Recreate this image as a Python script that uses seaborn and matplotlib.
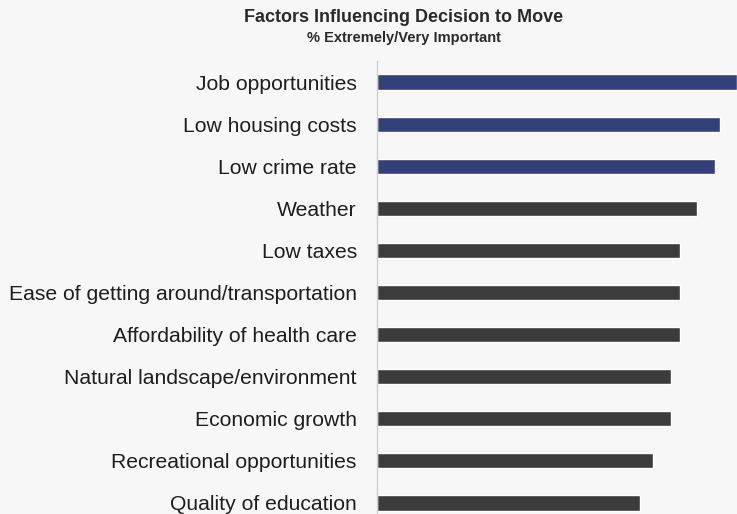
import matplotlib
matplotlib.use("Agg")
import matplotlib.pyplot as plt
import seaborn as sns
import pandas as pd

categories = [
    "Job opportunities",
    "Low housing costs",
    "Low crime rate",
    "Weather",
    "Low taxes",
    "Ease of getting around/transportation",
    "Affordability of health care",
    "Natural landscape/environment",
    "Economic growth",
    "Recreational opportunities",
    "Quality of education",
]
values = [42, 40, 39.4, 37.3, 35.3, 35.3, 35.3, 34.3, 34.3, 32.2, 30.7]
groups = ["top"] * 3 + ["other"] * 8

sns.set_theme(style="white")
plt.rcParams["font.family"] = ["Liberation Sans", "DejaVu Sans"]

df = pd.DataFrame({"factor": categories, "pct": values, "group": groups})

W, H = 737, 514
fig = plt.figure(figsize=(W / 100, H / 100), dpi=100)
fig.patch.set_facecolor("#f7f7f7")

ax = fig.add_axes([377 / W, -10 / H, (W - 377) / W, 463 / H])
ax.set_facecolor("none")
sns.barplot(data=df, x="pct", y="factor", hue="group",
            palette={"top": "#34407a", "other": "#3c3c3c"},
            dodge=False, width=0.36, legend=False, ax=ax, saturation=1)

ax.set_xlim(0, 42)
ax.set_ylim(10.5, -0.5)
ax.set_xlabel("")
ax.set_ylabel("")
ax.set_xticks([])
ax.tick_params(axis="y", length=0, pad=14.5, labelsize=15.2, labelcolor="#1e1e1e")
for s in ["top", "right", "bottom"]:
    ax.spines[s].set_visible(False)
ax.spines["left"].set_color("#cfcfcf")
ax.spines["left"].set_linewidth(1.0)

fig.text(404 / W, 1 - 18 / H, "Factors Influencing Decision to Move",
         ha="center", va="center", fontsize=13, fontweight="bold",
         color="#2a2a2a")
fig.text(404 / W, 1 - 38 / H, "% Extremely/Very Important",
         ha="center", va="center", fontsize=10.5, fontweight="bold",
         color="#2a2a2a")

fig.savefig("out.png", dpi=100, facecolor=fig.get_facecolor())
